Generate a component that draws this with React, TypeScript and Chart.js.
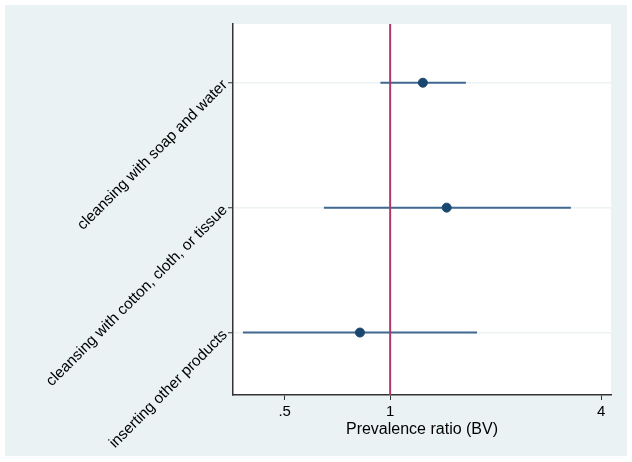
import React, { useEffect, useRef } from "react";
import { Chart, registerables } from "chart.js";

Chart.register(...registerables);

const categories = [
  "inserting other products",
  "cleansing with cotton, cloth, or tissue",
  "cleansing with soap and water",
];
const rowPos = [1, 2, 3];
const estimates = [0.82, 1.45, 1.24];
const lowerCI = [0.38, 0.647, 0.938];
const upperCI = [1.77, 3.28, 1.645];
const xTicks = [0.5, 1, 4];
const xTickLabels = [".5", "1", "4"];
const refValue = 1;

const BG = "#eaf2f3";
const NAVY = "#1a476f";
const CI_COLOR = "#3f6990";
const REF_COLOR = "#b3386a";
const FONT = "'Liberation Sans', Arial, Helvetica, sans-serif";

const bgPlugin = {
  id: "bgPlugin",
  beforeDraw(chart: any) {
    const { ctx, width, height, chartArea } = chart;
    ctx.save();
    ctx.fillStyle = "#ffffff";
    ctx.fillRect(0, 0, width, height);
    ctx.fillStyle = BG;
    ctx.fillRect(5, 5, width - 10, height - 11);
    ctx.fillStyle = "#ffffff";
    ctx.fillRect(
      chartArea.left,
      chartArea.top,
      chartArea.right - chartArea.left,
      chartArea.bottom - chartArea.top
    );
    ctx.restore();
  },
};

export default function App() {
  const ref = useRef<HTMLCanvasElement | null>(null);

  useEffect(() => {
    if (!ref.current) return;
    const ciSets = rowPos.map((y, i) => ({
      type: "line" as const,
      data: [
        { x: lowerCI[i], y },
        { x: upperCI[i], y },
      ],
      borderColor: CI_COLOR,
      borderWidth: 2,
      pointRadius: 0,
      showLine: true,
      order: 2,
    }));
    const chart = new Chart(ref.current, {
      type: "scatter",
      data: {
        datasets: [
          {
            type: "line" as const,
            data: [
              { x: refValue, y: 0.5 },
              { x: refValue, y: 3.47 },
            ],
            borderColor: REF_COLOR,
            borderWidth: 2,
            pointRadius: 0,
            showLine: true,
            order: 1,
          } as any,
          ...ciSets,
          {
            data: rowPos.map((y, i) => ({ x: estimates[i], y })),
            backgroundColor: NAVY,
            borderColor: NAVY,
            pointRadius: 4.5,
            order: 0,
          },
        ],
      },
      plugins: [bgPlugin],
      options: {
        animation: false,
        responsive: false,
        maintainAspectRatio: false,
        layout: { padding: { top: 24, right: 21, left: 0, bottom: 0 } },
        plugins: {
          legend: { display: false },
          tooltip: { enabled: false },
        },
        scales: {
          x: {
            type: "logarithmic",
            min: 0.356,
            max: 4.27,
            afterBuildTicks: (scale: any) => {
              scale.ticks = xTicks.map((v) => ({ value: v }));
            },
            afterFit: (scale: any) => {
              scale.height = 67;
            },
            ticks: {
              callback: (v: any) => {
                const i = xTicks.indexOf(Number(v));
                return i >= 0 ? xTickLabels[i] : "";
              },
              color: "#000",
              font: { family: FONT, size: 15 },
              padding: 3,
              maxRotation: 0,
              minRotation: 0,
            },
            grid: {
              drawOnChartArea: false,
              drawTicks: true,
              tickLength: 5,
              tickColor: "#333",
              tickWidth: 1,
            },
            border: { display: true, color: "#333", width: 1.5 },
            title: {
              display: true,
              text: "Prevalence ratio (BV)",
              color: "#000",
              font: { family: FONT, size: 16 },
              padding: { top: 0, bottom: 23 },
            },
          },
          y: {
            type: "linear",
            min: 0.5,
            max: 3.47,
            afterBuildTicks: (scale: any) => {
              scale.ticks = rowPos.map((v) => ({ value: v }));
            },
            afterFit: (scale: any) => {
              scale.width = 233;
            },
            ticks: {
              callback: (v: any) => {
                const i = rowPos.indexOf(Number(v));
                return i >= 0 ? categories[i] : "";
              },
              color: "#000",
              font: { family: FONT, size: 15.3 },
              minRotation: 45,
              maxRotation: 45,
              padding: 3,
            },
            grid: {
              drawOnChartArea: true,
              color: "#edf2f4",
              lineWidth: 1.5,
              drawTicks: true,
              tickLength: 5,
              tickColor: "#333",
              tickWidth: 1,
            },
            border: { display: true, color: "#333", width: 1.5 },
          },
        },
      } as any,
    });
    return () => chart.destroy();
  }, []);

  return (
    <div style={{ position: "fixed", left: 0, top: 0, width: 632, height: 462 }}>
      <canvas ref={ref} width={632} height={462} style={{ width: 632, height: 462 }} />
    </div>
  );
}
